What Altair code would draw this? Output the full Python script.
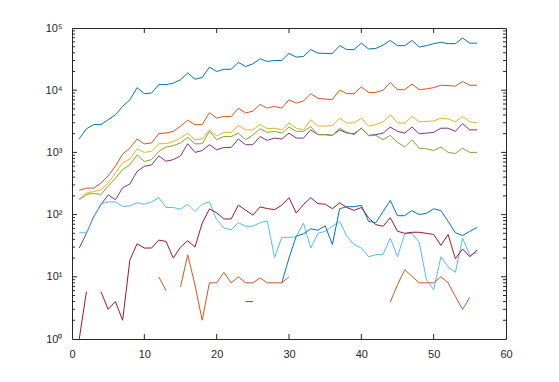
import altair as alt
import pandas as pd

x_vals = list(range(1, 57))

s1 = [1650, 2400, 2800, 2800, 3350, 4000, 5500, 7000, 11000, 8800, 9000, 12300, 12300, 13000, 14700, 19000,
      15000, 16000, 23500, 20000, 21700, 21700, 28000, 24000, 26500, 32000, 29000, 30000, 30000, 39000, 34000,
      35000, 45000, 39500, 39000, 39000, 52000, 45000, 45000, 57000, 46000, 47000, 53000, 63000, 52000, 52000,
      63000, 49500, 52000, 56000, 59000, 56000, 56000, 69000, 57000, 57000]
s2 = [245, 267, 267, 320, 420, 600, 940, 1170, 1640, 1370, 1420, 2000, 2050, 2180, 2640, 3300, 2790, 2790,
      4370, 3560, 3800, 3750, 5150, 4300, 4600, 5900, 5150, 5500, 5150, 7000, 6200, 6700, 8800, 7400, 7200,
      7100, 10000, 8800, 8800, 11300, 9200, 9200, 10000, 13300, 10200, 10200, 12500, 10200, 10500, 11000,
      12000, 11900, 11600, 13800, 12000, 12000]
s3 = [178, 222, 235, 250, 320, 465, 680, 780, 1135, 1000, 1040, 1380, 1380, 1500, 1700, 2040, 1600, 1650,
      2300, 1850, 2100, 2100, 2700, 2300, 2300, 2800, 2400, 2450, 2300, 2950, 2450, 2300, 3350, 2650, 2650,
      2700, 3550, 2950, 3000, 3550, 2650, 2800, 3100, 4000, 3000, 2950, 3800, 3100, 3150, 3200, 3550, 3450,
      3100, 3800, 3100, 3000]
s4 = [29, 50, 93, 144, 208, 173, 270, 310, 495, 596, 630, 880, 720, 765, 880, 1380, 1000, 1070, 1330, 1100,
      1200, 1200, 1640, 1330, 1330, 1800, 1560, 1700, 1640, 2040, 1700, 1700, 2300, 1930, 1930, 1880, 2300,
      2050, 2000, 2450, 1880, 1930, 2040, 2560, 2180, 2040, 2560, 2000, 2040, 2100, 2450, 2450, 2180, 2900,
      2300, 2300]
s5 = [173, 210, 220, 210, 285, 385, 530, 630, 915, 715, 765, 1040, 1220, 1280, 1420, 1750, 1370, 1380, 2180,
      1600, 1800, 1800, 2040, 1600, 1900, 2400, 2100, 2180, 2040, 2550, 2180, 2180, 2600, 1930, 1930, 1880,
      2450, 2100, 1930, 2450, 1850, 1880, 1600, 1880, 1450, 1220, 1600, 1170, 1140, 1070, 1220, 1000, 960,
      1170, 1000, 1000]
s6 = [51, 51, 90, 150, 160, 160, 135, 138, 155, 147, 160, 187, 130, 130, 122, 147, 112, 147, 160, 83, 61, 57,
      74, 65, 65, 74, 79, 20.5, 43, 43, 44, 73, 29, 50, 54, 65, 78, 45, 33, 29, 21, 22.7, 22.7, 42, 21, 49,
      50, 36, 9, 6.2, 21, 14.4, 11.8, 42, 22, 24.7]
s7 = [1.0, 5.8, None, 5.8, 3, 4, 2, 18.6, 34, 29, 29, 39, 37, 20, 30, 38, 30, 73, 123, 107, 85, 85, 142, 118,
      98, 133, 125, 120, 142, 187, 106, 145, 187, 150, 147, 124, 155, 130, 117, 130, 89, 69, 65, 89, 54, 50,
      52, 52, 50, 48, 32, 48, 19.5, 28, 21, 27]
s8 = [None] * 23 + [4, 4, None, None, None, 8, 20, 45, 49, 59, 56, 66, 33, 124, 134, 134, 141, 78, 74, 112,
      169, 96, 96, 116, 100, 105, 124, 116, 78, 51, 46, 54, 62]
s9 = [None] * 11 + [10, 6, None, 6.9, 22.6, 7.4, 2, 8, 8, 11.8, 8, 10, 8, 8, 9.6, 8, 8, 8, 10] + [None] * 13 + \
     [3.9, 7.5, 13, 10.2, 8, 8, 8, 10, 8, 4.8, 3, 4.7, None]

series_names = ["s1", "s2", "s3", "s4", "s5", "s6", "s7", "s8", "s9"]
series_vals = [s1, s2, s3, s4, s5, s6, s7, s8, s9]
series_colors = ["#0072BD", "#D95319", "#EDB120", "#7E2F8E", "#77AC30", "#4DBEEE", "#A2142F", "#0072BD", "#D95319"]

x_ticks = [0, 10, 20, 30, 40, 50, 60]
x_inner_ticks = [10, 20, 30, 40, 50]
y_major = [1, 10, 100, 1000, 10000, 100000]
y_inner_major = [10, 100, 1000, 10000]
y_minor = [m * 10 ** k for k in range(5) for m in range(2, 10)]

rows = []
for name, vals in zip(series_names, series_vals):
    seg = 0
    for xv, v in zip(x_vals, vals):
        if v is None:
            seg += 1
            continue
        rows.append({"x": xv, "y": v, "series": name, "seg": f"{name}-{seg}"})
df = pd.DataFrame(rows)

W, H = 434, 311
INK = "#262626"

xscale = alt.Scale(domain=[0, 60], nice=False, zero=False)
yscale = alt.Scale(type="log", domain=[1, 100000], nice=False)

xaxis = alt.Axis(values=x_ticks, title=None, ticks=False, domain=False, grid=False,
                 labelPadding=9, labelFlush=False, labelColor=INK,
                 labelFont="Liberation Sans", labelFontSize=11)
yaxis = alt.Axis(values=y_major, title=None, ticks=False, domain=False, grid=False,
                 labelPadding=10, labelColor=INK, labelFont="Liberation Sans", labelFontSize=11,
                 labelExpr="'10' + ['\u2070','\u00b9','\u00b2','\u00b3','\u2074','\u2075'][round(log(datum.value)/LN10)]")

lines = alt.Chart(df).mark_line(strokeWidth=1, clip=True).encode(
    x=alt.X("x:Q", scale=xscale, axis=xaxis),
    y=alt.Y("y:Q", scale=yscale, axis=yaxis),
    color=alt.Color("series:N", scale=alt.Scale(domain=series_names, range=series_colors), legend=None),
    detail="seg:N",
)

xt = pd.DataFrame({"x": x_inner_ticks})
ymaj = pd.DataFrame({"y": y_inner_major})
ymin = pd.DataFrame({"y": y_minor})

rule = dict(color=INK, strokeWidth=1)
xb = alt.Chart(xt).mark_rule(**rule).encode(x=alt.X("x:Q", scale=xscale, axis=xaxis), y=alt.value(H), y2=alt.value(H - 5))
xtp = alt.Chart(xt).mark_rule(**rule).encode(x=alt.X("x:Q", scale=xscale, axis=xaxis), y=alt.value(0), y2=alt.value(5))
yl = alt.Chart(ymaj).mark_rule(**rule).encode(y=alt.Y("y:Q", scale=yscale, axis=yaxis), x=alt.value(0), x2=alt.value(5))
yr = alt.Chart(ymaj).mark_rule(**rule).encode(y=alt.Y("y:Q", scale=yscale, axis=yaxis), x=alt.value(W), x2=alt.value(W - 5))
yml = alt.Chart(ymin).mark_rule(**rule).encode(y=alt.Y("y:Q", scale=yscale, axis=yaxis), x=alt.value(0), x2=alt.value(3))
ymr = alt.Chart(ymin).mark_rule(**rule).encode(y=alt.Y("y:Q", scale=yscale, axis=yaxis), x=alt.value(W), x2=alt.value(W - 3))

chart = alt.layer(lines, xb, xtp, yl, yr, yml, ymr).properties(
    width=W, height=H,
    autosize=alt.AutoSizeParams(type="none"),
    padding={"left": 64, "top": 20, "right": 45, "bottom": 35},
    background="white",
).configure_view(
    stroke=INK, strokeWidth=1
)

chart.save("out.html", embed_options={"renderer": "svg", "actions": False})
